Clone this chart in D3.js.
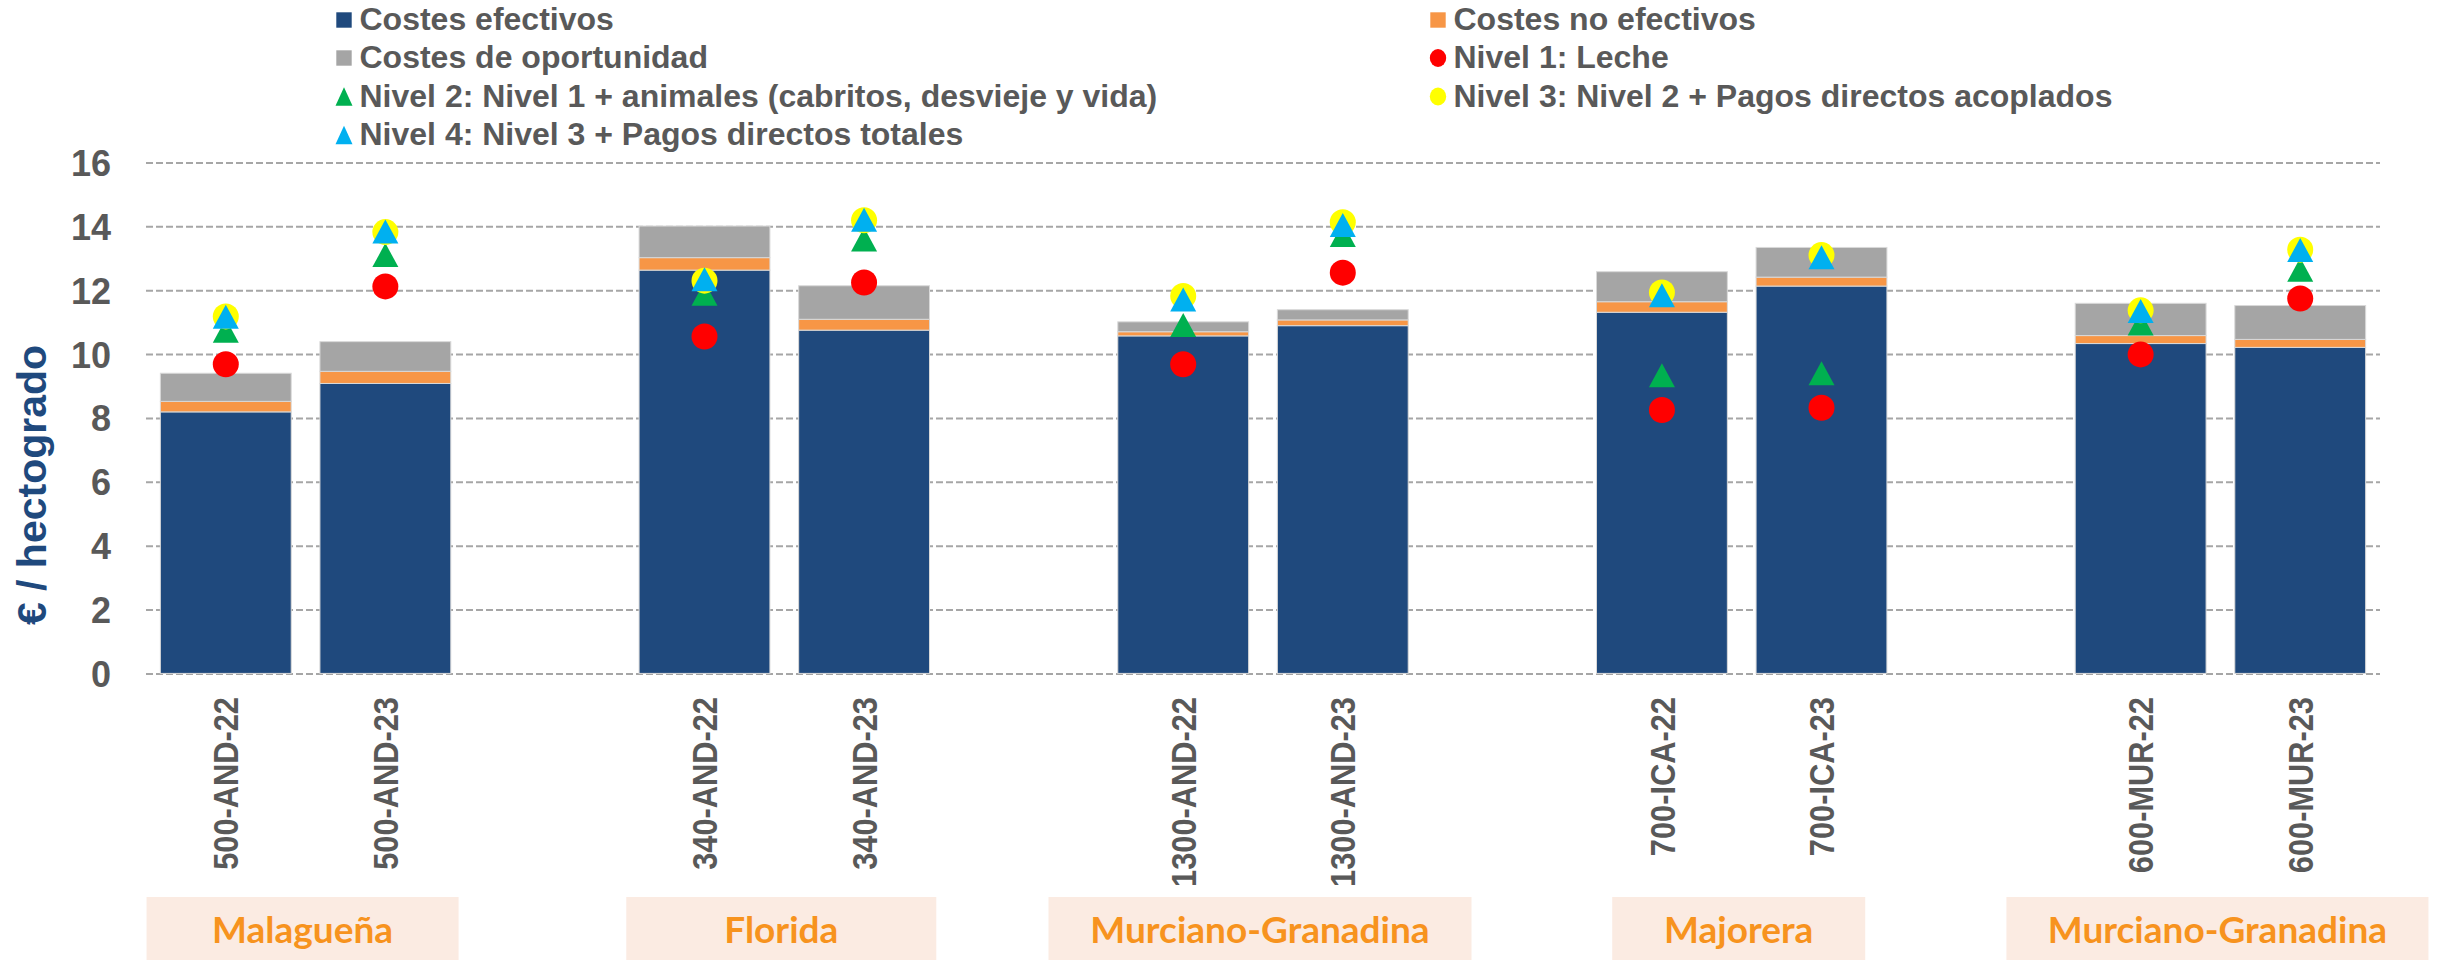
<!DOCTYPE html>
<html>
<head>
<meta charset="utf-8">
<script src="https://cdn.jsdelivr.net/npm/d3@7"></script>
<style>
  body { margin: 0; background: #fff; }
  svg { display: block; }
</style>
</head>
<body>
<script>
// data
var categories = ["500-AND-22", "500-AND-23", "340-AND-22", "340-AND-23", "1300-AND-22", "1300-AND-23",
                  "700-ICA-22", "700-ICA-23", "600-MUR-22", "600-MUR-23"];
var groups = ["Malagueña", "Florida", "Murciano-Granadina", "Majorera", "Murciano-Granadina"];
var costesEfectivos   = [8.19, 9.08, 12.63, 10.75, 10.57, 10.89, 11.31, 12.13, 10.33, 10.21];
var costesNoEfectivos = [0.33, 0.38, 0.39, 0.34, 0.13, 0.18, 0.33, 0.28, 0.25, 0.25];
var costesOportunidad = [0.88, 0.93, 0.99, 1.05, 0.31, 0.32, 0.94, 0.93, 1.01, 1.06];
var nivel1 = [9.68, 12.12, 10.55, 12.24, 9.68, 12.55, 8.25, 8.32, 9.99, 11.74];
var nivel2 = [10.73, 13.10, 11.89, 13.59, 10.91, 13.73, 9.34, 9.40, 10.96, 12.64];
var nivel3 = [11.18, 13.82, 12.30, 14.19, 11.82, 14.13, 11.93, 13.10, 11.37, 13.27];
var nivel4 = [11.17, 13.84, 12.34, 14.21, 11.71, 14.04, 11.84, 13.03, 11.35, 13.26];
var yTicks = [0, 2, 4, 6, 8, 10, 12, 14, 16];

var width = 2440, height = 960;
var plotLeft = 146, plotRight = 2380, plotTop = 162.5, plotBottom = 673.4;
var groupBoxW = [312, 310, 423, 253, 422];
var textGray = "#595959";

var svg = d3.select("body").append("svg")
    .attr("width", width)
    .attr("height", height);

// x domain: two bars per breed, an empty slot between breeds
var domain = [];
groups.forEach(function(g, i) {
  domain.push(categories[2 * i], categories[2 * i + 1]);
  if (i < groups.length - 1) domain.push("gap" + i);
});

var x = d3.scaleBand()
    .domain(domain)
    .range([plotLeft, plotRight])
    .paddingInner(0.18)
    .paddingOuter(0.09);

var y = d3.scaleLinear()
    .domain([0, 16])
    .range([plotBottom, plotTop]);

// gridlines + y tick labels
var yAxis = svg.append("g")
    .attr("transform", "translate(" + plotLeft + ",0)")
    .call(d3.axisLeft(y).tickValues(yTicks).tickSizeInner(-(plotRight - plotLeft)).tickSizeOuter(0).tickPadding(35));
yAxis.select(".domain").remove();
yAxis.selectAll("line")
    .attr("stroke", "#a6a6a6")
    .attr("stroke-width", 2)
    .attr("stroke-dasharray", "7,3");
yAxis.selectAll("text")
    .attr("fill", textGray)
    .attr("font-family", "Liberation Sans, Arial, sans-serif")
    .attr("font-weight", "bold")
    .attr("font-size", 36)
    .attr("dy", "0.36em");

svg.append("text")
    .attr("transform", "translate(46,485) rotate(-90)")
    .attr("text-anchor", "middle")
    .attr("fill", "#1f497d")
    .attr("font-family", "Liberation Sans, Arial, sans-serif")
    .attr("font-weight", "bold")
    .attr("font-size", 41)
    .text("€ / hectogrado");

// stacked bars
var rows = categories.map(function(c, i) {
  return { cat: c, ef: costesEfectivos[i], noef: costesNoEfectivos[i], op: costesOportunidad[i] };
});
var barColors = { ef: "#1f497d", noef: "#f79646", op: "#a5a5a5" };
var stack = d3.stack().keys(["ef", "noef", "op"]);

svg.append("g")
  .selectAll("g")
  .data(stack(rows))
  .enter().append("g")
    .attr("fill", function(d) { return barColors[d.key]; })
  .selectAll("rect")
  .data(function(d) { return d; })
  .enter().append("rect")
    .attr("x", function(d) { return x(d.data.cat); })
    .attr("y", function(d) { return y(d[1]); })
    .attr("width", x.bandwidth())
    .attr("height", function(d) { return y(d[0]) - y(d[1]); })
    .attr("stroke", "#d9d9d9")
    .attr("stroke-width", 1);

// markers
var tri = function(w, h) { return "M0," + (-h / 2) + "L" + (w / 2) + "," + (h / 2) + "L" + (-w / 2) + "," + (h / 2) + "Z"; };
var markerSeries = [
  { vals: nivel1, shape: "circle", color: "#ff0000" },
  { vals: nivel2, shape: "triangle", color: "#00b050" },
  { vals: nivel3, shape: "circle", color: "#ffff00" },
  { vals: nivel4, shape: "triangle", color: "#00b0f0" }
];
var cx = function(i) { return x(categories[i]) + x.bandwidth() / 2; };

markerSeries.forEach(function(s) {
  var g = svg.append("g");
  if (s.shape == "circle") {
    g.selectAll("circle")
      .data(s.vals)
      .enter().append("circle")
        .attr("cx", function(d, i) { return cx(i); })
        .attr("cy", function(d) { return y(d); })
        .attr("r", 13)
        .attr("fill", s.color);
  } else {
    g.selectAll("path")
      .data(s.vals)
      .enter().append("path")
        .attr("transform", function(d, i) { return "translate(" + cx(i) + "," + y(d) + ")"; })
        .attr("d", tri(26, 24))
        .attr("fill", s.color);
  }
});

// x labels, rotated
svg.append("g")
  .selectAll("text")
  .data(categories)
  .enter().append("text")
    .attr("transform", function(d) { return "translate(" + (x(d) + x.bandwidth() / 2) + ",697) rotate(-90) scale(0.88,1)"; })
    .attr("text-anchor", "end")
    .attr("dy", "0.36em")
    .attr("fill", textGray)
    .attr("font-family", "Liberation Sans, Arial, sans-serif")
    .attr("font-weight", "bold")
    .attr("font-size", 35)
    .text(function(d) { return d; });

// breed boxes
var gb = svg.append("g")
  .selectAll("g")
  .data(groups)
  .enter().append("g")
    .attr("transform", function(d, i) {
      var c = (x(categories[2 * i]) + x(categories[2 * i + 1]) + x.bandwidth()) / 2 - 3;
      return "translate(" + c + ",0)";
    });
gb.append("rect")
    .attr("x", function(d, i) { return -groupBoxW[i] / 2; })
    .attr("y", 897)
    .attr("width", function(d, i) { return groupBoxW[i]; })
    .attr("height", height - 897)
    .attr("fill", "#fbebe2");
gb.append("text")
    .attr("y", 943)
    .attr("text-anchor", "middle")
    .attr("fill", "#f7931e")
    .attr("font-family", "Lato, Open Sans, sans-serif")
    .attr("font-weight", "bold")
    .attr("font-size", 37)
    .text(function(d) { return d; });

// legend
var legendItems = [
  { name: "Costes efectivos", shape: "square", color: barColors.ef },
  { name: "Costes no efectivos", shape: "square", color: barColors.noef },
  { name: "Costes de oportunidad", shape: "square", color: barColors.op },
  { name: "Nivel 1: Leche", shape: "circle", color: "#ff0000" },
  { name: "Nivel 2: Nivel 1 + animales (cabritos, desvieje y vida)", shape: "triangle", color: "#00b050" },
  { name: "Nivel 3: Nivel 2 + Pagos directos acoplados", shape: "circle", color: "#ffff00" },
  { name: "Nivel 4: Nivel 3 + Pagos directos totales", shape: "triangle", color: "#00b0f0" }
];
var colX = [344, 1438], rowY = [20, 58, 96.5, 135];

var lg = svg.append("g")
  .selectAll("g")
  .data(legendItems)
  .enter().append("g")
    .attr("transform", function(d, i) { return "translate(" + colX[i % 2] + "," + rowY[Math.floor(i / 2)] + ")"; });
lg.each(function(d) {
  var g = d3.select(this);
  if (d.shape == "square") {
    g.append("rect").attr("x", -7.7).attr("y", -7.7).attr("width", 15.4).attr("height", 15.4).attr("fill", d.color);
  } else if (d.shape == "circle") {
    g.append("ellipse").attr("rx", 8.2).attr("ry", 9).attr("fill", d.color);
  } else {
    g.append("path").attr("d", tri(17, 18.5)).attr("fill", d.color);
  }
});
lg.append("text")
    .attr("x", 15.5)
    .attr("y", 10)
    .attr("fill", textGray)
    .attr("font-family", "Liberation Sans, Arial, sans-serif")
    .attr("font-weight", "bold")
    .attr("font-size", 32)
    .text(function(d) { return d.name; });
</script>
</body>
</html>
